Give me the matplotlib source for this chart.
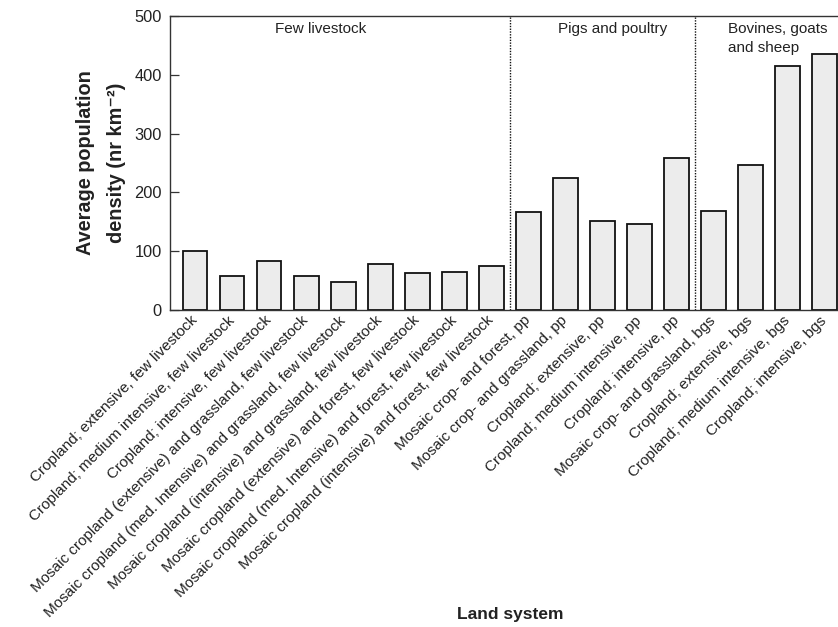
import matplotlib
matplotlib.use("Agg")
import matplotlib.pyplot as plt

categories = [
    "Cropland; extensive, few livestock",
    "Cropland; medium intensive, few livestock",
    "Cropland; intensive, few livestock",
    "Mosaic cropland (extensive) and grassland, few livestock",
    "Mosaic cropland (med. Intensive) and grassland, few livestock",
    "Mosaic cropland (intensive) and grassland, few livestock",
    "Mosaic cropland (extensive) and forest, few livestock",
    "Mosaic cropland (med. Intensive) and forest, few livestock",
    "Mosaic cropland (intensive) and forest, few livestock",
    "Mosaic crop- and forest, pp",
    "Mosaic crop- and grassland, pp",
    "Cropland; extensive, pp",
    "Cropland; medium intensive, pp",
    "Cropland; intensive, pp",
    "Mosaic crop- and grassland, bgs",
    "Cropland; extensive, bgs",
    "Cropland; medium intensive, bgs",
    "Cropland; intensive, bgs",
]
values = [101, 57, 84, 58, 47, 79, 63, 65, 75, 166, 225, 152, 146, 258, 168, 247, 415, 435]
group_labels = ["Few livestock", "Pigs and poultry", "Bovines, goats", "and sheep"]
group_bounds = [8.5, 13.5]
yticks = [0, 100, 200, 300, 400, 500]

plt.rcParams['font.family'] = ['Liberation Sans', 'DejaVu Sans']
txt = '#222222'

fig = plt.figure(figsize=(8.38, 6.27), dpi=100)
ax = fig.add_axes([170/838, 1-310/627, (838-170)/838, (310-16)/627])

x = list(range(len(categories)))
ax.bar(x, values, width=0.67, color='#ececec', edgecolor='#111111', linewidth=1.3, zorder=2)

for b in group_bounds:
    ax.axvline(b, color='#111111', linestyle=(0, (1, 1.0)), linewidth=1.0, zorder=3)

ax.text(3.38, 478, group_labels[0], ha='center', va='center', fontsize=11, color=txt)
ax.text(11.27, 478, group_labels[1], ha='center', va='center', fontsize=11, color=txt)
ax.text(14.38, 478, group_labels[2], ha='left', va='center', fontsize=11, color=txt)
ax.text(14.38, 446, group_labels[3], ha='left', va='center', fontsize=11, color=txt)

ax.set_xlim(-0.675, 17.36)
ax.set_ylim(0, 500)
ax.set_yticks(yticks)
ax.set_yticklabels([str(v) for v in yticks], fontsize=11.8, color=txt)
ax.set_xticks(x)
ax.set_xticklabels(categories, rotation=45, ha='right', va='center', rotation_mode='anchor',
                   fontsize=11.0, color=txt)
ax.tick_params(axis='y', direction='in', length=6.5, width=0.9, pad=6, colors='#333333', labelcolor=txt)
ax.tick_params(axis='x', length=0, pad=6, labelcolor=txt)
ax.spines['right'].set_visible(False)
for s in ['left', 'top', 'bottom']:
    ax.spines[s].set_linewidth(1.0)
    ax.spines[s].set_color('#333333')

fig.text(85/838, 1-163/627, "Average population", rotation=90,
         ha='center', va='center', fontsize=14.3, fontweight='bold', color=txt)
fig.text(116/838, 1-163/627, "density (nr km\u207b\u00b2)", rotation=90,
         ha='center', va='center', fontsize=14.3, fontweight='bold', color=txt)
fig.text(510/838, 1-615/627, "Land system", ha='center', va='center', fontsize=12.5,
         fontweight='bold', color=txt)

fig.savefig("out.png", dpi=100)
